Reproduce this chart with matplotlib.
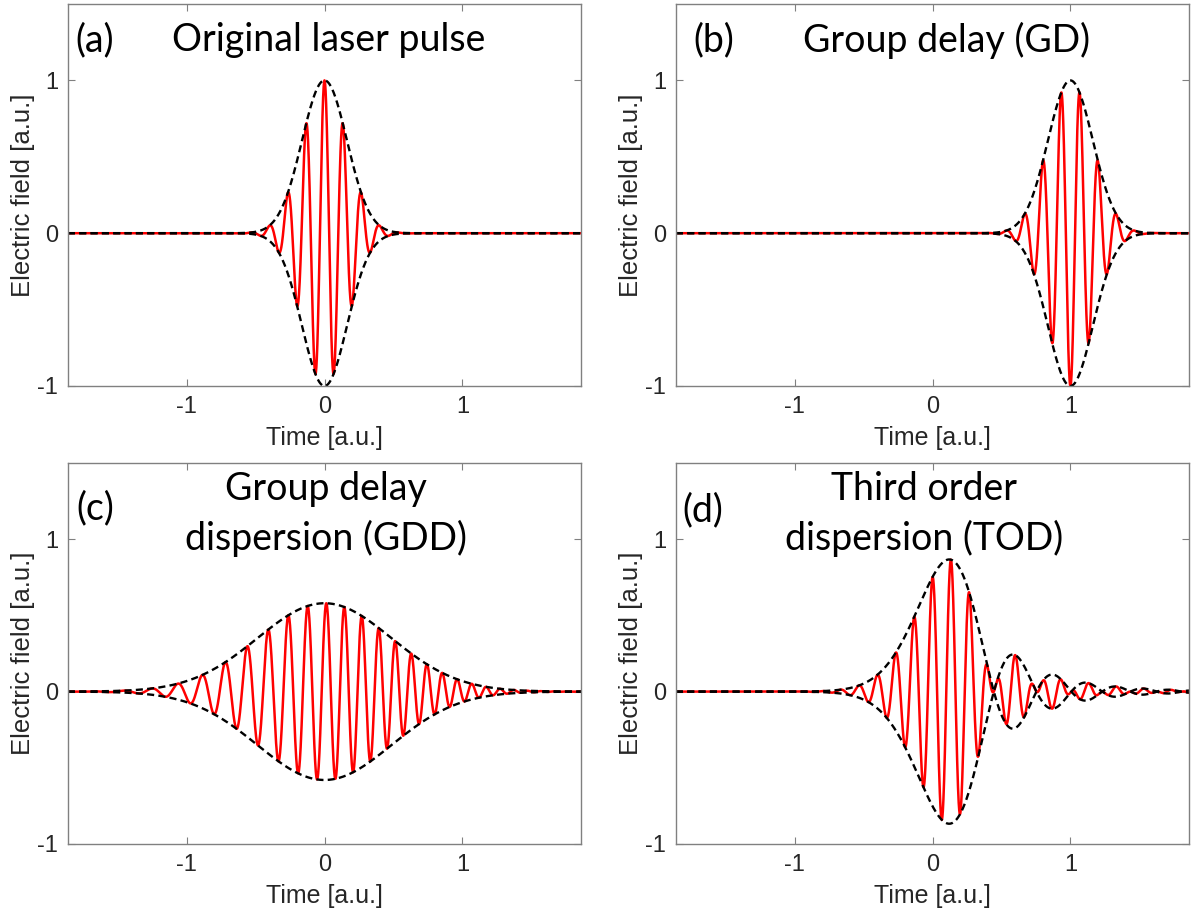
import numpy as np
import matplotlib.pyplot as plt

plt.rcParams['font.family'] = 'Liberation Sans'
plt.rcParams['axes.unicode_minus'] = False

# pulse and dispersion settings for each panel
panel_tags = ['(a)', '(b)', '(c)', '(d)']
panel_titles = ['Original laser pulse', 'Group delay (GD)',
                'Group delay\ndispersion (GDD)', 'Third order\ndispersion (TOD)']
group_delay = [0.0, 1.0, 0.0, 0.0]
gdd = [0.0, 0.0, 0.0744, 0.0]
tod = [0.0, 0.0, 0.0, 0.011]
pulse_sigma = 0.163          # gaussian width of the field envelope
carrier_period = 2.0 / 15.0

x_ticks = [-1, 0, 1]
y_ticks = [-1, 0, 1]

# time grid (wide so the spectral phase does not wrap around)
dt = 0.001
t = np.arange(-8.0, 8.0, dt)
w0 = 2 * np.pi / carrier_period
a0 = np.exp(-t**2 / (2 * pulse_sigma**2))
spec = np.fft.fft(a0)
W = 2 * np.pi * np.fft.fftfreq(t.size, dt)

# axes boxes in pixels: left, top, right, bottom
boxes = [(68, 4, 581, 386), (676, 4, 1189, 386),
         (68, 463, 581, 844), (676, 463, 1189, 844)]
tag_pos = [(0.014, 0.905), (0.033, 0.905), (0.017, 0.882), (0.012, 0.877)]
title_pos = [(0.509, 0.906), (0.528, 0.905), (0.503, 0.866), (0.483, 0.866)]

W_PX, H_PX = 1194, 916
fig = plt.figure(figsize=(W_PX / 100, H_PX / 100), dpi=100)

for i in range(4):
    l, tp, r, b = boxes[i]
    ax = fig.add_axes([l / W_PX, 1 - b / H_PX, (r - l) / W_PX, (b - tp) / H_PX])

    phase = group_delay[i] * W + gdd[i] * W**2 / 2 + tod[i] * W**3 / 6
    a = np.fft.ifft(spec * np.exp(-1j * phase))
    field = np.real(a * np.exp(1j * w0 * t))
    env = np.abs(a)

    ax.plot(t, field, color='red', lw=1.8)
    ax.plot(t, env, color='black', lw=1.7, linestyle=(0, (3, 1.8)))
    ax.plot(t, -env, color='black', lw=1.7, linestyle=(0, (3, 1.8)))

    ax.set_xlim(-1.86, 1.86)
    ax.set_ylim(-1, 1.5)
    ax.set_xticks(x_ticks)
    ax.set_yticks(y_ticks)
    ax.tick_params(direction='in', top=True, right=True, length=5, width=0.8,
                   color='#808080', labelcolor='#262626', labelsize=17, pad=7)
    for s in ax.spines.values():
        s.set_color('#808080')
        s.set_linewidth(1.0)

    ax.set_xlabel('Time [a.u.]', fontsize=18, color='#262626', labelpad=6)
    ax.set_ylabel('Electric field [a.u.]', fontsize=18.5, color='#262626', labelpad=2)

    ax.text(tag_pos[i][0], tag_pos[i][1], panel_tags[i], transform=ax.transAxes,
            ha='left', va='center', fontsize=27, family='Lato')
    ax.text(title_pos[i][0], title_pos[i][1], panel_titles[i], transform=ax.transAxes,
            ha='center', va='center', fontsize=27, family='Lato',
            multialignment='center', linespacing=1.45)

fig.savefig('out.png', dpi=100)
